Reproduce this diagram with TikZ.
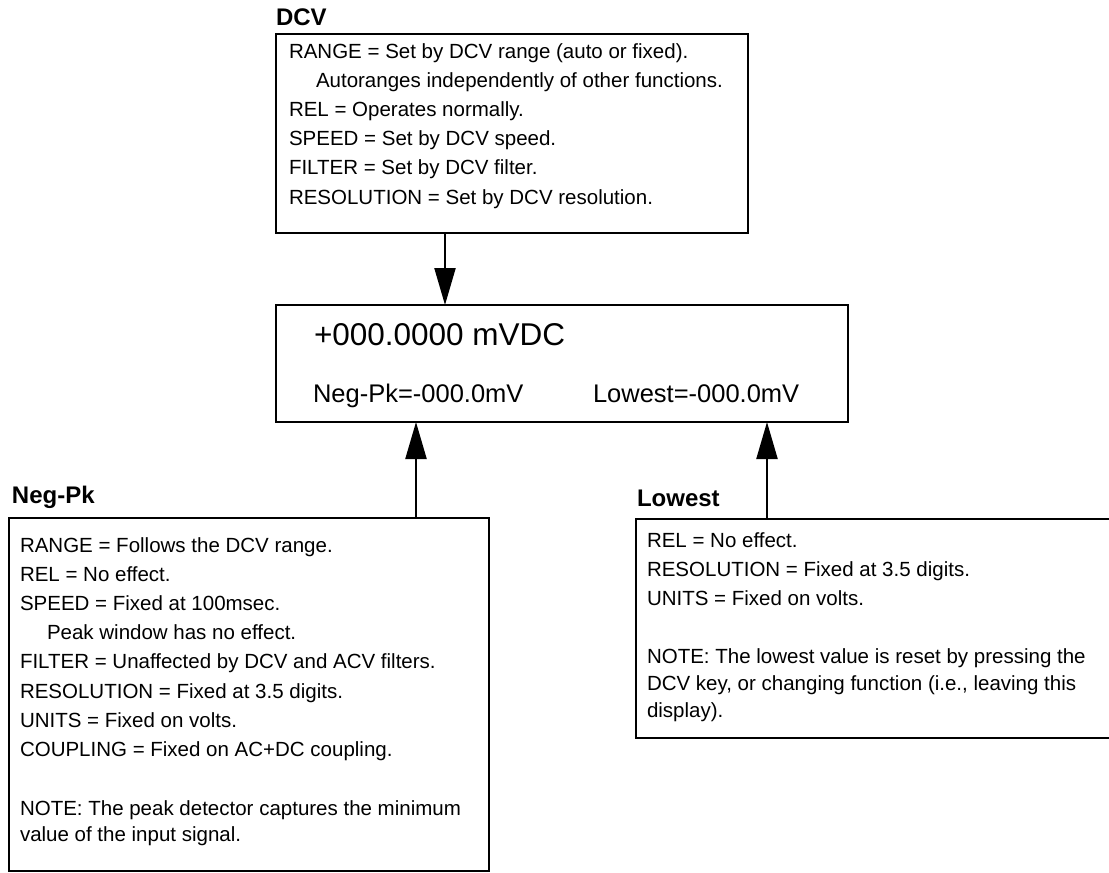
\documentclass[tikz,border=0pt]{standalone}
\usepackage{fontspec}
\setmainfont{Liberation Sans}
\usetikzlibrary{arrows.meta}
\newcommand{\bodyfont}{\fontsize{20.5}{24}\selectfont}
\newcommand{\labelfont}{\fontsize{24}{28}\selectfont\bfseries}
\begin{document}
\begin{tikzpicture}[x=1pt,y=-1pt,
  box/.style={draw, line width=2.6pt, inner sep=0pt, outer sep=0pt, anchor=north west},
  txt/.style={inner sep=0pt, outer sep=0pt, anchor=base west, font=\bodyfont},
  lbl/.style={inner sep=0pt, outer sep=0pt, anchor=base west, font=\labelfont},
  disp/.style={inner sep=0pt, outer sep=0pt, anchor=base west},
  arr/.style={line width=2.2pt, -{Triangle[length=37pt,width=21pt]}}]
\useasboundingbox (0,0) rectangle (1109,873);
\clip (0,0) rectangle (1109,873);

% boxes
\node[box, minimum width=472pt, minimum height=199pt] (dcv) at (276,34) {};
\node[box, minimum width=572pt, minimum height=117pt] (mid) at (276,305) {};
\node[box, minimum width=480pt, minimum height=353pt] (neg) at (9,518) {};
\node[box, minimum width=480pt, minimum height=219pt] (low) at (636,519) {};

% labels
\node[lbl] (dcvlbl) at (276,25) {DCV};
\node[lbl] (neglbl) at (12,503) {Neg-Pk};
\node[lbl] (lowlbl) at (637,506) {Lowest};

% DCV text
\node[txt] (d1) at (289,58) {RANGE = Set by DCV range (auto or fixed).};
\node[txt] (d2) at (316,87.2) {Autoranges independently of other functions.};
\node[txt] (d3) at (289,116.4) {REL = Operates normally.};
\node[txt] (d4) at (289,145.6) {SPEED = Set by DCV speed.};
\node[txt] (d5) at (289,174.8) {FILTER = Set by DCV filter.};
\node[txt] (d6) at (289,204) {RESOLUTION = Set by DCV resolution.};

% display text
\node[disp, font=\fontsize{31.5}{36}\selectfont] (m1) at (314,345) {+000.0000 mVDC};
\node[disp, font=\fontsize{25.5}{30}\selectfont] (m2) at (313,402) {Neg-Pk=-000.0mV};
\node[disp, font=\fontsize{25.5}{30}\selectfont] (m3) at (593,402) {Lowest=-000.0mV};

% Neg-Pk text
\node[txt] (n1) at (20,552) {RANGE = Follows the DCV range.};
\node[txt] (n2) at (20,581.2) {REL = No effect.};
\node[txt] (n3) at (20,610.4) {SPEED = Fixed at 100msec.};
\node[txt] (n4) at (47,639.6) {Peak window has no effect.};
\node[txt] (n5) at (20,668.8) {FILTER = Unaffected by DCV and ACV filters.};
\node[txt] (n6) at (20,698) {RESOLUTION = Fixed at 3.5 digits.};
\node[txt] (n7) at (20,727.2) {UNITS = Fixed on volts.};
\node[txt] (n8) at (20,756.4) {COUPLING = Fixed on AC+DC coupling.};
\node[txt] (n9) at (20,815) {NOTE: The peak detector captures the minimum};
\node[txt] (n10) at (20,841) {value of the input signal.};

% Lowest text
\node[txt] (l1) at (647,547) {REL = No effect.};
\node[txt] (l2) at (647,576) {RESOLUTION = Fixed at 3.5 digits.};
\node[txt] (l3) at (647,605) {UNITS = Fixed on volts.};
\node[txt] (l4) at (647,663) {NOTE: The lowest value is reset by pressing the};
\node[txt] (l5) at (647,690) {DCV key, or changing function (i.e., leaving this};
\node[txt] (l6) at (647,717) {display).};

% arrows
\draw[arr] ([xshift=169pt]dcv.south west) -- ([xshift=169pt]dcv.south west |- mid.north);
\draw[arr] ([xshift=407pt]neg.north west) -- ([xshift=407pt]neg.north west |- mid.south);
\draw[arr] ([xshift=131pt]low.north west) -- ([xshift=131pt]low.north west |- mid.south);
\end{tikzpicture}
\end{document}
